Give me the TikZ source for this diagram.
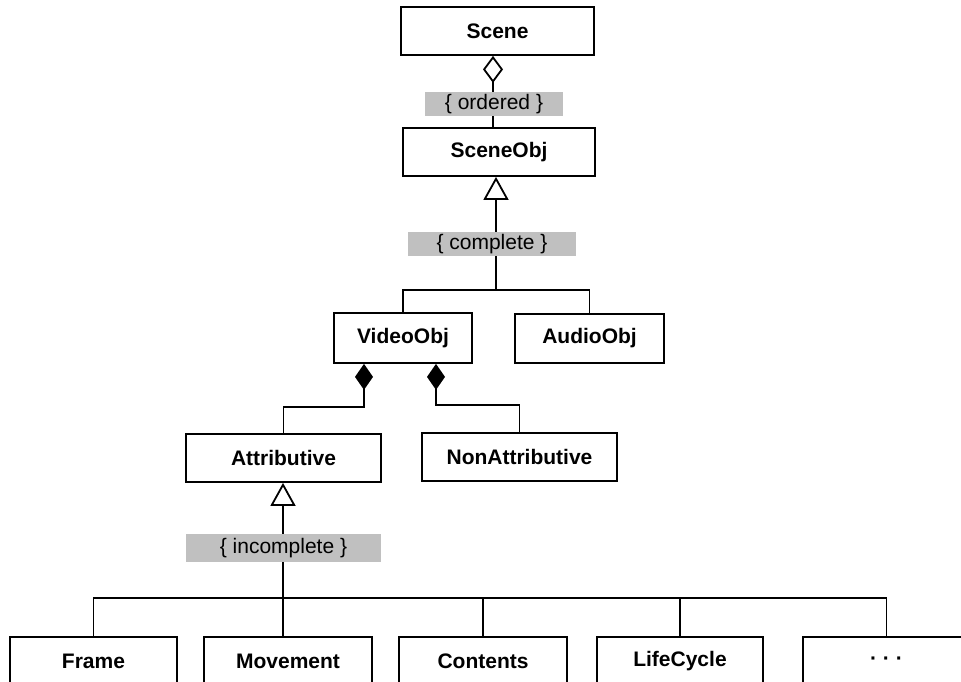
\documentclass[tikz,border=0pt]{standalone}
\usepackage{fontspec}
\setmainfont{Liberation Sans}
\usetikzlibrary{arrows.meta}
\definecolor{tagfill}{RGB}{192,192,192}
\begin{document}
\begin{tikzpicture}[x=1pt,y=-1pt,line width=1.8pt,
  cls/.style={draw, fill=white, font=\fontsize{21}{25}\selectfont\bfseries,
    inner sep=0pt, minimum height=48},
  tag/.style={fill=tagfill, font=\fontsize{21}{25}\selectfont,
    inner sep=0pt, minimum height=24},
  gen/.style={-{Triangle[open,length=23,width=25]}},
  aggr/.style={-{Diamond[open,length=27,width=20]}},
  comp/.style={-{Diamond[length=26,width=18]}},
  wire/.style={line join=miter}]
\useasboundingbox (0,0) rectangle (961,682);
\clip (0,0) rectangle (961,682);

% classes
\node[cls, minimum width=193] (scene) at (497.5,31) {Scene};
\node[cls, minimum width=192] (sceneobj) at (499,152) {SceneObj};
\node[cls, minimum width=138, minimum height=50] (videoobj) at (403,338) {VideoObj};
\node[cls, minimum width=149, minimum height=49] (audioobj) at (589.5,338.5) {AudioObj};
\node[cls, minimum width=195] (attr) at (283.5,458) {Attributive};
\node[cls, minimum width=195] (nonattr) at (519.5,457) {NonAttributive};
\node[cls, minimum width=167] (frame) at (93.5,661) {Frame};
\node[cls, minimum width=168] (movement) at (288,661) {Movement};
\node[cls, minimum width=168] (contents) at (483,661) {Contents};
\node[cls, minimum width=166] (lifecycle) at (680,661) {LifeCycle};
\node[cls, minimum width=167] (more) at (886.5,661) {· · ·};

% junction points of the connector trees
\coordinate (a1) at (493,0);
\coordinate (j1) at (496,290);
\coordinate (k1) at (364,407);
\coordinate (k2) at (436,405);
\coordinate (j3) at (283,598);

% Scene <>-- SceneObj
\draw[aggr] (sceneobj.north -| a1) -- (scene.south -| a1);

% SceneObj generalization
\draw[gen] (j1) -- (sceneobj.south -| j1);
\draw[wire] (videoobj.north) |- (j1) -| (audioobj.north);

% VideoObj compositions
\draw[comp, wire] (attr.north) |- (k1) -- (videoobj.south -| k1);
\draw[comp, wire] (nonattr.north) |- (k2) -- (videoobj.south -| k2);

% Attributive generalization
\draw[gen] (j3) -- (attr.south -| j3);
\draw[wire] (frame.north) |- (more.north |- j3) -- (more.north);
\draw (movement.north -| j3) -- (j3);
\draw (contents.north) -- (contents.north |- j3);
\draw (lifecycle.north) -- (lifecycle.north |- j3);

% constraint labels
\node[tag, minimum width=138] (t1) at (494,104) {\{ ordered \}};
\node[tag, minimum width=168] (t2) at (492,244) {\{ complete \}};
\node[tag, minimum width=195, minimum height=28] (t3) at (283.5,548) {\{ incomplete \}};
\end{tikzpicture}
\end{document}
